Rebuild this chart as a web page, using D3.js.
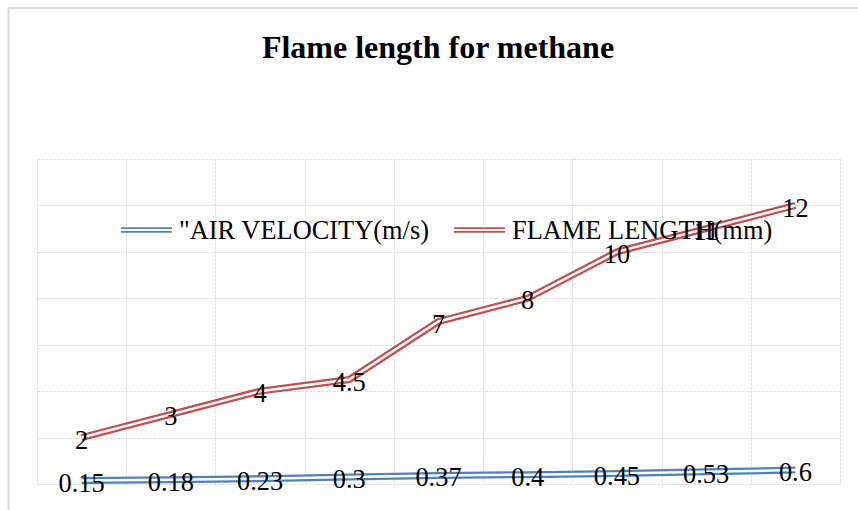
<!DOCTYPE html>
<html>
<head>
<meta charset="utf-8">
<script src="https://cdn.jsdelivr.net/npm/d3@7"></script>
<style>
  html, body { margin: 0; padding: 0; background: #fff; overflow: hidden; }
  text { font-family: "Liberation Serif", "Times New Roman", serif; fill: #000; }
</style>
</head>
<body>
<svg id="chart" width="858" height="510"></svg>
<script>
// dados
const categories = ["1", "2", "3", "4", "5", "6", "7", "8", "9"];
const airVelocity = [0.15, 0.18, 0.23, 0.3, 0.37, 0.4, 0.45, 0.53, 0.6];
const flameLength = [2, 3, 4, 4.5, 7, 8, 10, 11, 12];
const yTicks = [0, 2, 4, 6, 8, 10, 12, 14];
const seriesNames = ["\"AIR VELOCITY(m/s)", "FLAME LENGTH(mm)"];
const seriesColors = ["#4F81BD", "#C0504D"];

const svg = d3.select("#chart");

// moldura externa (cortada à direita e embaixo)
svg.append("rect")
  .attr("x", 8.5).attr("y", 8)
  .attr("width", 900).attr("height", 560)
  .attr("fill", "#fff")
  .attr("stroke", "#d9d9d9")
  .attr("stroke-width", 2);

// título
svg.append("text")
  .attr("x", 438).attr("y", 58)
  .attr("text-anchor", "middle")
  .style("font-size", "32px")
  .style("font-weight", "bold")
  .text("Flame length for methane");

const plot = { left: 37, right: 840, top: 159, bottom: 484 };

const x = d3.scaleBand().domain(categories).range([plot.left, plot.right]).padding(0);
const y = d3.scaleLinear().domain([0, 14]).range([plot.bottom, plot.top]);

// grade tracejada
const grid = svg.append("g").attr("stroke", "#e0e0e0").attr("stroke-width", 1).attr("stroke-dasharray", "3,1");
grid.selectAll("line.h")
  .data(yTicks)
  .join("line")
  .attr("class", "h")
  .attr("x1", plot.left).attr("x2", plot.right)
  .attr("y1", d => Math.round(y(d)) + 0.5)
  .attr("y2", d => Math.round(y(d)) + 0.5);

const xEdges = categories.map(c => x(c)).concat([x.range()[1]]);
grid.selectAll("line.v")
  .data(xEdges)
  .join("line")
  .attr("class", "v")
  .attr("y1", plot.top).attr("y2", plot.bottom)
  .attr("x1", d => Math.round(d) + 0.5)
  .attr("x2", d => Math.round(d) + 0.5);

const cx = c => x(c) + x.bandwidth() / 2;

// linhas duplas (traço grosso colorido + traço branco no meio)
function doubleLine(values, color) {
  const line = d3.line()
    .x((d, i) => cx(categories[i]))
    .y(d => y(d));
  svg.append("path")
    .datum(values)
    .attr("fill", "none")
    .attr("stroke", color)
    .attr("stroke-width", 7)
    .attr("d", line);
  svg.append("path")
    .datum(values)
    .attr("fill", "none")
    .attr("stroke", "#fff")
    .attr("stroke-width", 2.5)
    .attr("d", line);
}

doubleLine(airVelocity, seriesColors[0]);
doubleLine(flameLength, seriesColors[1]);

// legenda
const legend = svg.append("g");
let lx = 121;
const ly = 230;
seriesNames.forEach((name, i) => {
  legend.append("line")
    .attr("x1", lx).attr("x2", lx + 51)
    .attr("y1", ly).attr("y2", ly)
    .attr("stroke", seriesColors[i]).attr("stroke-width", 5.5);
  legend.append("line")
    .attr("x1", lx).attr("x2", lx + 51)
    .attr("y1", ly).attr("y2", ly)
    .attr("stroke", "#fff").attr("stroke-width", 2);
  const t = legend.append("text")
    .attr("x", lx + 58).attr("y", 239)
    .style("font-size", "26.4px")
    .text(name);
  lx += 58 + t.node().getComputedTextLength() + 25;
});

// rótulos de dados centralizados nos pontos
function labels(values) {
  svg.append("g").selectAll("text")
    .data(values)
    .join("text")
    .attr("x", (d, i) => cx(categories[i]))
    .attr("y", d => y(d))
    .attr("dy", "0.42em")
    .attr("text-anchor", "middle")
    .style("font-size", "26.4px")
    .text(d => d);
}

labels(airVelocity);
labels(flameLength);
</script>
</body>
</html>
